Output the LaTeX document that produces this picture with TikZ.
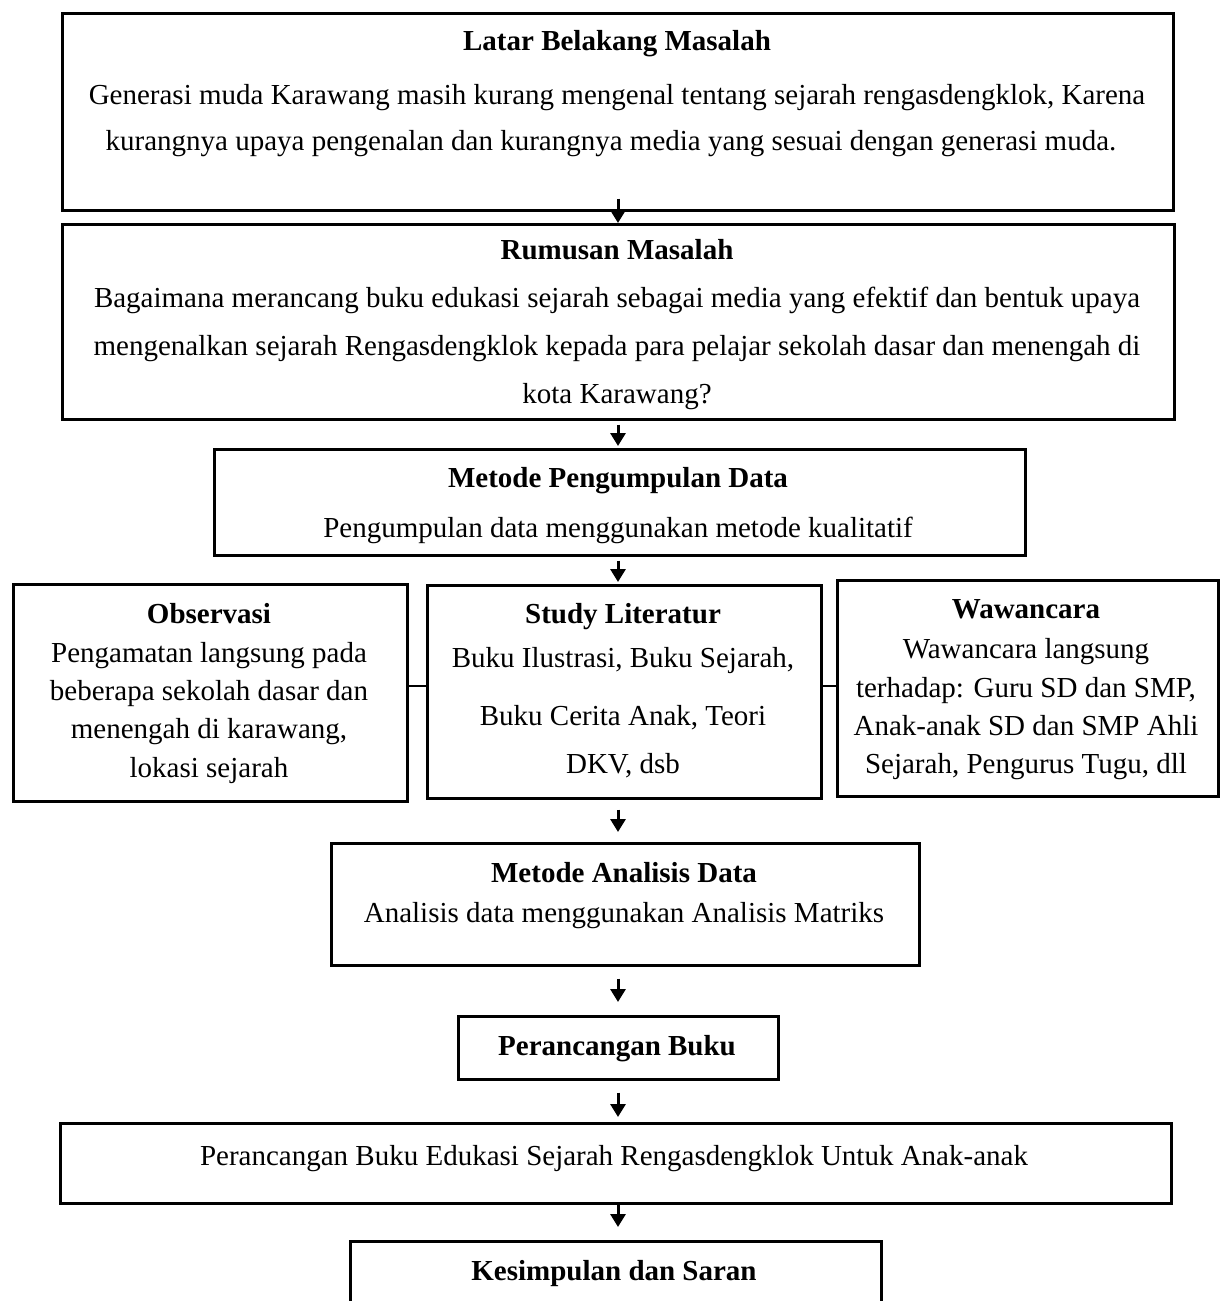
\documentclass[tikz,border=0pt]{standalone}
\usepackage{fontspec}
\setmainfont{Liberation Serif}
\usetikzlibrary{arrows.meta,calc}
\begin{document}
\begin{tikzpicture}[x=1pt,y=-1pt,
  box/.style={draw,line width=2.6pt,inner sep=0pt,anchor=north west},
  txt/.style={anchor=base,inner sep=0pt,font=\fontsize{29}{34}\selectfont},
  hd/.style={anchor=base,inner sep=0pt,font=\fontsize{29}{34}\selectfont\bfseries},
  arr/.style={line width=3pt,-{Triangle[length=13pt,width=15pt]}},
  link/.style={line width=1.3pt}]
\useasboundingbox (0,0) rectangle (1219,1301);
\coordinate (ax) at (618,0);
\coordinate (lk) at (0,686);
% boxes
\node[box,minimum width=1111pt,minimum height=197pt] (b1) at (61,12) {};
\node[box,minimum width=1112pt,minimum height=195pt] (b2) at (61,223) {};
\node[box,minimum width=811pt,minimum height=106pt] (b3) at (213,448) {};
\node[box,minimum width=394pt,minimum height=217pt] (bo) at (12,583) {};
\node[box,minimum width=394pt,minimum height=213pt] (bs) at (426,584) {};
\node[box,minimum width=381pt,minimum height=216pt] (bw) at (836,579) {};
\node[box,minimum width=588pt,minimum height=122pt] (b4) at (330,842) {};
\node[box,minimum width=320pt,minimum height=63pt] (b5) at (457,1015) {};
\node[box,minimum width=1111pt,minimum height=80pt] (b6) at (59,1122) {};
\node[box,minimum width=531pt,minimum height=120pt] (b7) at (349,1240) {};
% texts
\node[hd] (t1h) at (617,50) {Latar Belakang Masalah};
\node[txt] (t1a) at (617,104) {Generasi muda Karawang masih kurang mengenal tentang sejarah rengasdengklok, Karena};
\node[txt] (t1b) at (611,150) {kurangnya upaya pengenalan dan kurangnya media yang sesuai dengan generasi muda.};
\node[hd] (t2h) at (617,259) {Rumusan Masalah};
\node[txt] (t2a) at (617,307) {Bagaimana merancang buku edukasi sejarah sebagai media yang efektif dan bentuk upaya};
\node[txt] (t2b) at (617,355) {mengenalkan sejarah Rengasdengklok kepada para pelajar sekolah dasar dan menengah di};
\node[txt] (t2c) at (617,403) {kota Karawang?};
\node[hd] (t3h) at (618,487) {Metode Pengumpulan Data};
\node[txt] (t3a) at (618,537) {Pengumpulan data menggunakan metode kualitatif};
\node[hd] (toh) at (209,623) {Observasi};
\node[txt] (toa) at (209,662) {Pengamatan langsung pada};
\node[txt] (tob) at (209,700) {beberapa sekolah dasar dan};
\node[txt] (toc) at (209,738) {menengah di karawang,};
\node[txt] (tod) at (209,777) {lokasi sejarah};
\node[hd] (tsh) at (623,623) {Study Literatur};
\node[txt] (tsa) at (623,667) {Buku Ilustrasi, Buku Sejarah,};
\node[txt] (tsb) at (623,725) {Buku Cerita Anak, Teori};
\node[txt] (tsc) at (623,773) {DKV, dsb};
\node[hd] (twh) at (1026,618) {Wawancara};
\node[txt] (twa) at (1026,658) {Wawancara langsung};
\node[txt] (twb) at (1026,697) {terhadap: Guru SD dan SMP,};
\node[txt] (twc) at (1026,735) {Anak-anak SD dan SMP Ahli};
\node[txt] (twd) at (1026,773) {Sejarah, Pengurus Tugu, dll};
\node[hd] (t4h) at (624,882) {Metode Analisis Data};
\node[txt] (t4a) at (624,922) {Analisis data menggunakan Analisis Matriks};
\node[hd] (t5) at (617,1055) {Perancangan Buku};
\node[txt] (t6) at (614,1165) {Perancangan Buku Edukasi Sejarah Rengasdengklok Untuk Anak-anak};
\node[hd] (t7) at (614,1280) {Kesimpulan dan Saran};
% links
\draw[link] (bo.east |- lk) -- (bs.west |- lk);
\draw[link] (bs.east |- lk) -- (bw.west |- lk);
% arrows
\draw[arr] ($(b1.south -| ax)+(0,-13)$) -- (b2.north -| ax);
\draw[arr] ($(b2.south -| ax)+(0,4)$) -- ($(b3.north -| ax)+(0,-2)$);
\draw[arr] ($(b3.south -| ax)+(0,4)$) -- ($(bs.north -| ax)+(0,-2)$);
\draw[arr] ($(bs.south -| ax)+(0,10)$) -- ($(b4.north -| ax)+(0,-10)$);
\draw[arr] ($(b4.south -| ax)+(0,12)$) -- ($(b5.north -| ax)+(0,-13)$);
\draw[arr] ($(b5.south -| ax)+(0,12)$) -- ($(b6.north -| ax)+(0,-5)$);
\draw[arr] (b6.south -| ax) -- ($(b7.north -| ax)+(0,-13)$);
\end{tikzpicture}
\end{document}
